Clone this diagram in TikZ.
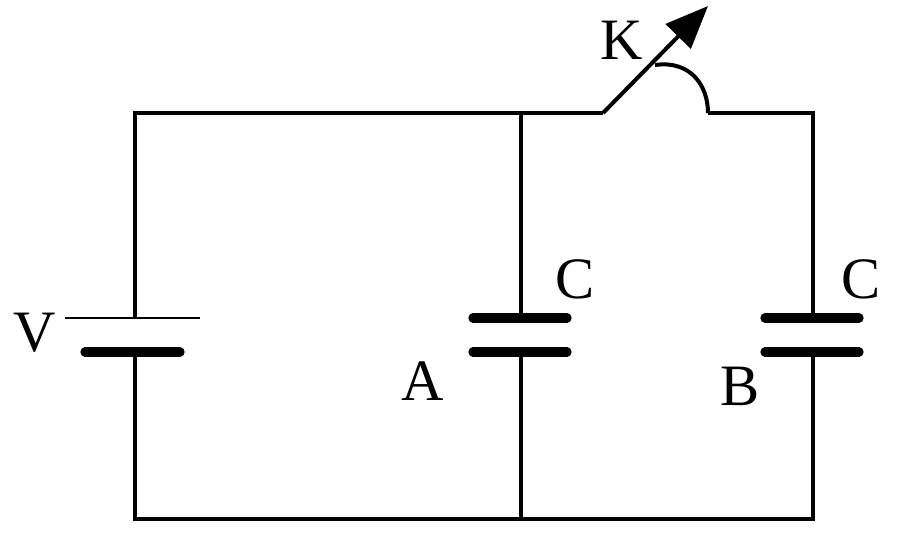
\documentclass[tikz,border=0pt]{standalone}
\usepackage{fontspec}
\setmainfont{Liberation Serif}
\usetikzlibrary{arrows.meta}
\tikzset{every picture/.style={line width=3pt}}
\tikzset{plate/.style={line width=7pt,line cap=round},
  lbl/.style={inner sep=0pt,font=\fontsize{44}{44}\selectfont}}
\begin{document}
\begin{tikzpicture}[x=0.75pt,y=0.75pt,yscale=-1,xscale=1]
\useasboundingbox (0,0) rectangle (900,537);
% corners and junctions
\coordinate (tl) at (135,113);
\coordinate (bl) at (135,519);
\coordinate (tm) at (521,113);
\coordinate (bm) at (521,519);
\coordinate (tr) at (813,113);
\coordinate (br) at (813,519);
\coordinate (swa) at (603,113);
\coordinate (swb) at (708,113);
\coordinate (tip) at (708,6);
% battery V
\coordinate (vp) at (135,318);
\coordinate (vn) at (135,352);
\draw [line width=2pt] (65,318) -- (200,318);
\draw [plate] (85,352) -- (180,352);
% capacitor A
\coordinate (ap) at (521,318);
\coordinate (an) at (521,352);
\draw [plate] (473,318) -- (567,318);
\draw [plate] (473,352) -- (567,352);
% capacitor B
\coordinate (bp) at (813,318);
\coordinate (bn) at (813,352);
\draw [plate] (765,318) -- (859,318);
\draw [plate] (765,352) -- (859,352);
% wires
\draw (vp) -- (tl) -- (tm) -- (swa);
\draw (vn) -- (bl) -- (bm) -- (br) -- (bn);
\draw (tm) -- (ap);
\draw (an) -- (bm);
\draw (swb) -- (tr) -- (bp);
% switch K
\draw [-{Triangle[length=32pt,width=26pt]}] (swa) -- (tip);
\draw (655,65) .. controls (690,60) and (708,85) .. (swb);
% labels
\node [lbl] (v) at (35,333) {V};
\node [lbl] (k) at (622,40) {K};
\node [lbl] (ca) at (575,279) {C};
\node [lbl] (la) at (423,381) {A};
\node [lbl] (cb) at (861,279) {C};
\node [lbl] (lb) at (740,386) {B};
\end{tikzpicture}
\end{document}
